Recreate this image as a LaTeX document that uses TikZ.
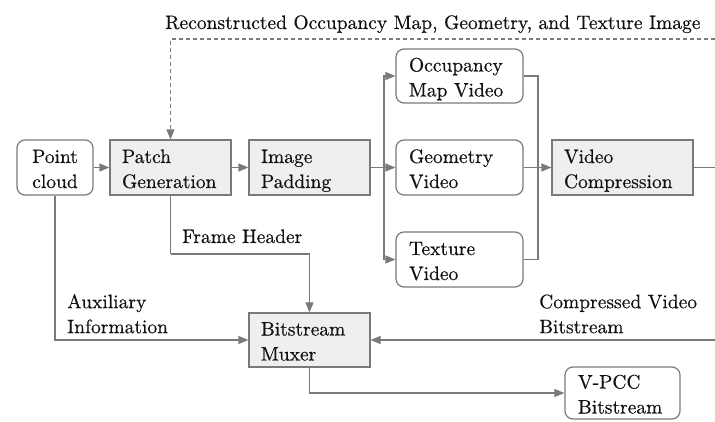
\documentclass[tikz,border=0pt]{standalone}
\usepackage{fontspec}
\setmainfont{lmroman10-regular}[Extension=.otf, FakeBold=0.4]
\usetikzlibrary{arrows.meta}

\definecolor{edge}{HTML}{7A7A7A}
\definecolor{boxfill}{HTML}{EFEFEF}
\definecolor{ink}{HTML}{111111}

% struts that give every text line the same height and depth
\newcommand\firstln{\rule[-5pt]{0pt}{26pt}}
\newcommand\nextln{\rule[-5pt]{0pt}{20pt}}

\begin{document}
\begin{tikzpicture}[x=1pt,y=-1pt,
  txt/.style={font=\fontsize{19.5}{25}\selectfont, text=ink},
  boxbase/.style={txt, draw=edge, line width=1.2pt, inner xsep=12pt, inner ysep=0pt, align=left},
  proc/.style={boxbase, fill=boxfill, minimum height=55pt},
  data/.style={boxbase, fill=white, rounded corners=8pt, minimum height=55pt},
  lbl/.style={txt, inner sep=0pt, align=left},
  link/.style={draw=edge, line width=1.2pt, -{Triangle[length=10pt,width=8pt]}},
  wire/.style={draw=edge, line width=1.2pt},
  feedback/.style={link, dash pattern=on 4pt off 3pt}
]
\useasboundingbox (0,0) rectangle (715,421);

% blocks
\node[data, align=center, text width=52pt, minimum width=76pt] (pc) at (55,167.5)
  {\firstln Point\\\nextln cloud};
\node[proc, text width=97pt] (pg) at (170.5,167.5)
  {\firstln Patch\\\nextln Generation};
\node[proc, text width=97pt] (ip) at (309.5,167.5)
  {\firstln Image\\\nextln Padding};
\node[data, text width=101pt, inner xsep=13pt, minimum height=54pt] (om) at (459.5,76)
  {\firstln Occupancy\\\nextln Map Video};
\node[data, text width=101pt, inner xsep=13pt] (gv) at (459.5,167.5)
  {\firstln Geometry\\\nextln Video};
\node[data, text width=101pt, inner xsep=13pt] (tv) at (459.5,259.5)
  {\firstln Texture\\\nextln Video};
\node[proc, text width=117pt] (vc) at (622.5,167.5)
  {\firstln Video\\\nextln Compression};
\node[proc, text width=97pt, minimum height=54pt] (bm) at (309.5,340)
  {\firstln Bitstream\\\nextln Muxer};
\node[data, text width=89pt, inner xsep=13pt, minimum height=52pt] (vp) at (622.5,393)
  {\firstln V-PCC\\\nextln Bitstream};

% junctions and loose ends
\coordinate (split) at (384,167.5);
\coordinate (merge) at (538,167.5);
\coordinate (vcout) at (715,167.5);
\coordinate (fbin)  at (715,39);
\coordinate (cvin)  at (715,340);
\coordinate (fhbend) at (170.5,254);

% main flow
\draw[link] (pc) -- (pg);
\draw[link] (pg) -- (ip);
\draw[wire] (ip.east) -- (split);
\draw[link] (split) |- (om.west);
\draw[link] (split) -- (gv.west);
\draw[link] (split) |- (tv.west);
\draw[wire] (om.east) -| (merge);
\draw[wire] (tv.east) -| (merge);
\draw[wire] (gv.east) -- (merge);
\draw[link] (merge) -- (vc.west);
\draw[wire] (vc.east) -- (vcout);

% reconstructed data fed back
\draw[feedback] (fbin) -| (pg.north);
\node[lbl, anchor=base west] (fblabel) at (165,29)
  {Reconstructed Occupancy Map, Geometry, and Texture Image};

% side information into the muxer
\draw[wire] (pg.south) -- (fhbend);
\draw[link] (fhbend) -| (bm.north);
\node[lbl, anchor=base west] (fhlabel) at (182,243) {Frame Header};

\draw[link] (pc.south) |- (bm.west);
\node[lbl, anchor=north west] (auxlabel) at (67,287)
  {\firstln Auxiliary\\\nextln Information};

\draw[link] (cvin) -- (bm.east);
\node[lbl, anchor=north west] (cvlabel) at (539,287)
  {\firstln Compressed Video\\\nextln Bitstream};

\draw[link] (bm.south) |- (vp.west);
\end{tikzpicture}
\end{document}
